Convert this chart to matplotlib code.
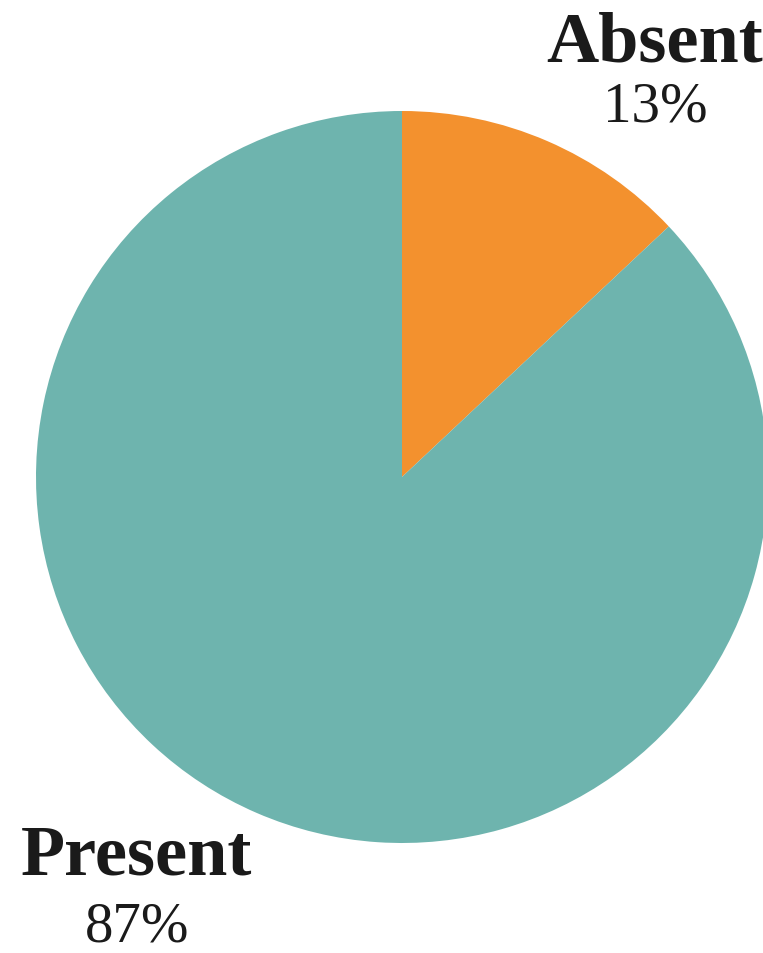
import matplotlib.pyplot as plt

labels = ["Absent", "Present"]
shares = [13, 87]
colors = ["#F3912E", "#6EB4AE"]

W, H = 763, 954
fig = plt.figure(figsize=(W / 100, H / 100), dpi=100)
ax = fig.add_axes([0, 0, 1, 1])
ax.set_xlim(0, W)
ax.set_ylim(H, 0)
ax.set_aspect("equal")
ax.axis("off")

# pie starts at 12 o'clock and runs clockwise (y axis is flipped, so counterclock=True)
ax.pie(shares, colors=colors, startangle=-90, counterclock=True,
       center=(402, 478), radius=366, frame=True,
       wedgeprops=dict(linewidth=0))
ax.set_xlim(0, W)
ax.set_ylim(H, 0)
ax.axis("off")

font = "Liberation Serif"
pos = {"Absent": (655, 62, 121), "Present": (137, 875, 942)}
for lab, val in zip(labels, shares):
    x, y1, y2 = pos[lab]
    ax.text(x, y1, lab, ha="center", va="baseline", fontsize=52,
            fontweight="bold", family=font, color="#1a1a1a")
    ax.text(x, y2, f"{val}%", ha="center", va="baseline", fontsize=41,
            family=font, color="#1a1a1a")

fig.savefig("out.png", dpi=100)
